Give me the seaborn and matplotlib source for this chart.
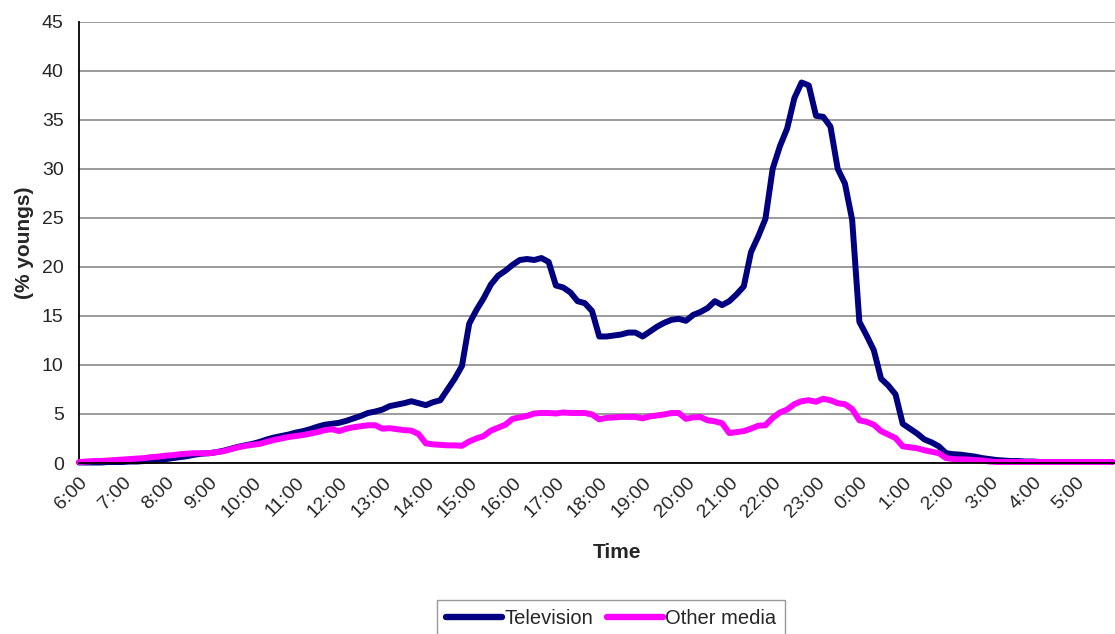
import numpy as np
import pandas as pd
import matplotlib
matplotlib.use("Agg")
import matplotlib.pyplot as plt
import seaborn as sns

# Share of young people (%) using each medium, in 10-minute slots from 6:00 to 5:50
television = [
    0.05, 0.05, 0.05, 0.05, 0.1, 0.1, 0.1, 0.15, 0.15, 0.2, 0.25, 0.3,
    0.4, 0.5, 0.6, 0.7, 0.85, 0.95, 1.0, 1.1, 1.25, 1.45, 1.65, 1.8,
    1.95, 2.15, 2.4, 2.6, 2.75, 2.9, 3.1, 3.25, 3.45, 3.7, 3.9, 4.0,
    4.1, 4.3, 4.55, 4.8, 5.1, 5.25, 5.45, 5.8, 5.95, 6.1, 6.3, 6.1,
    5.9, 6.2, 6.4, 7.5, 8.6, 9.9, 14.2, 15.6, 16.8, 18.2, 19.1, 19.6,
    20.2, 20.7, 20.8, 20.7, 20.9, 20.5, 18.1, 17.9, 17.4, 16.5, 16.3, 15.5,
    12.9, 12.9, 13.0, 13.1, 13.3, 13.3, 12.9, 13.4, 13.9, 14.3, 14.6, 14.7,
    14.5, 15.1, 15.4, 15.8, 16.5, 16.1, 16.5, 17.2, 18.0, 21.5, 23.1, 24.9,
    30.0, 32.3, 34.1, 37.2, 38.8, 38.5, 35.4, 35.3, 34.3, 30.0, 28.5, 24.8,
    14.4, 13.0, 11.5, 8.6, 7.9, 7.0, 4.0, 3.5, 3.0, 2.4, 2.1, 1.7,
    1.0, 0.9, 0.85, 0.75, 0.65, 0.5, 0.4, 0.3, 0.25, 0.2, 0.2, 0.15,
    0.15, 0.1, 0.1, 0.1, 0.1, 0.1, 0.1, 0.1, 0.1, 0.1, 0.1, 0.1,
]
other_media = [
    0.1, 0.15, 0.2, 0.2, 0.25, 0.3, 0.35, 0.4, 0.45, 0.5, 0.6, 0.65,
    0.75, 0.8, 0.9, 0.95, 1.0, 1.0, 1.0, 1.1, 1.2, 1.4, 1.6, 1.75,
    1.85, 1.95, 2.15, 2.35, 2.5, 2.65, 2.75, 2.85, 3.0, 3.15, 3.35, 3.45,
    3.25, 3.5, 3.65, 3.75, 3.85, 3.85, 3.5, 3.55, 3.45, 3.35, 3.3, 2.95,
    2.0, 1.9, 1.85, 1.8, 1.8, 1.75, 2.2, 2.5, 2.75, 3.3, 3.6, 3.9,
    4.5, 4.65, 4.8, 5.05, 5.1, 5.1, 5.05, 5.15, 5.1, 5.1, 5.1, 4.95,
    4.45, 4.6, 4.65, 4.7, 4.7, 4.7, 4.55, 4.75, 4.85, 4.95, 5.1, 5.1,
    4.5, 4.65, 4.7, 4.35, 4.25, 4.05, 3.05, 3.15, 3.25, 3.5, 3.8, 3.85,
    4.6, 5.15, 5.45, 6.0, 6.3, 6.4, 6.25, 6.55, 6.4, 6.1, 6.0, 5.5,
    4.35, 4.2, 3.9, 3.25, 2.9, 2.55, 1.7, 1.6, 1.5, 1.3, 1.15, 1.0,
    0.5, 0.4, 0.38, 0.35, 0.3, 0.25, 0.15, 0.1, 0.1, 0.1, 0.1, 0.1,
    0.1, 0.1, 0.1, 0.1, 0.1, 0.1, 0.1, 0.1, 0.1, 0.1, 0.1, 0.1,
]
hour_labels = ["6:00", "7:00", "8:00", "9:00", "10:00", "11:00", "12:00",
               "13:00", "14:00", "15:00", "16:00", "17:00", "18:00", "19:00",
               "20:00", "21:00", "22:00", "23:00", "0:00", "1:00", "2:00",
               "3:00", "4:00", "5:00"]
series_names = ["Television", "Other media"]
series_colors = ["#000080", "#FF00FF"]

slots_per_hour = 6
n = len(television)
df = pd.DataFrame({
    "slot": list(range(n)) * 2,
    "value": television + other_media,
    "medium": [series_names[0]] * n + [series_names[1]] * n,
})

sns.set_style("white")
plt.rcParams["font.family"] = ["Liberation Sans", "DejaVu Sans"]

W, H = 1115, 634
fig = plt.figure(figsize=(W / 100, H / 100), dpi=100)
ax_left, ax_right, ax_top, ax_bottom = 79, 1119.5, 21.7, 463
ax = fig.add_axes([ax_left / W, (H - ax_bottom) / H,
                   (ax_right - ax_left) / W, (ax_bottom - ax_top) / H])

sns.lineplot(data=df, x="slot", y="value", hue="medium",
             palette=dict(zip(series_names, series_colors)),
             linewidth=4.3, ax=ax, legend=False, zorder=3)
for line in ax.get_lines():
    line.set_solid_joinstyle("round")
    line.set_solid_capstyle("round")
    line.set_clip_on(False)

ax.set_xlim(0, n - 1)
ax.set_ylim(0, 45)

# Horizontal gridlines
ax.set_yticks(np.arange(0, 46, 5))
ax.yaxis.grid(True, color="#808080", linewidth=1.1, zorder=0)
ax.xaxis.grid(False)
ax.set_axisbelow(True)

# Category ticks every slot, labels every hour
ax.set_xticks(np.arange(0, n + 1), minor=True)
ax.set_xticks(np.arange(0, n, slots_per_hour))
ax.set_xticklabels(hour_labels, rotation=45, ha="right", va="top",
                   rotation_mode="anchor", fontsize=14)
ax.tick_params(axis="x", which="both", direction="out", length=5,
               width=1, color="#808080", pad=3)
ax.tick_params(axis="y", which="major", direction="out", length=5,
               width=1, color="#808080", labelsize=14, pad=6)
ax.tick_params(axis="x", which="minor", labelbottom=False)

for side in ["top", "right"]:
    ax.spines[side].set_visible(False)
ax.spines["left"].set_color("black")
ax.spines["left"].set_linewidth(1.3)
ax.spines["bottom"].set_color("black")
ax.spines["bottom"].set_linewidth(1.3)
ax.spines["bottom"].set_zorder(4)

ax.set_xlabel("")
ax.set_ylabel("(% youngs)", fontsize=15, fontweight="bold", labelpad=6)
fig.text(617 / W, 1 - 552 / H, "Time", fontsize=15, fontweight="bold",
         ha="center", va="center")

handles = [plt.Line2D([], [], color=c, linewidth=4.6, solid_capstyle="round")
           for c in series_colors]
leg = fig.legend(handles, series_names, loc="upper center",
                 bbox_to_anchor=(611 / W, 1 - 600 / H), ncol=2,
                 fontsize=14.5, frameon=True, fancybox=False,
                 handlelength=2.8, handletextpad=0.1, columnspacing=0.7,
                 borderpad=0.45, borderaxespad=0)
leg.get_frame().set_edgecolor("#808080")
leg.get_frame().set_linewidth(1)

fig.savefig("out.png", dpi=100, facecolor="white")
